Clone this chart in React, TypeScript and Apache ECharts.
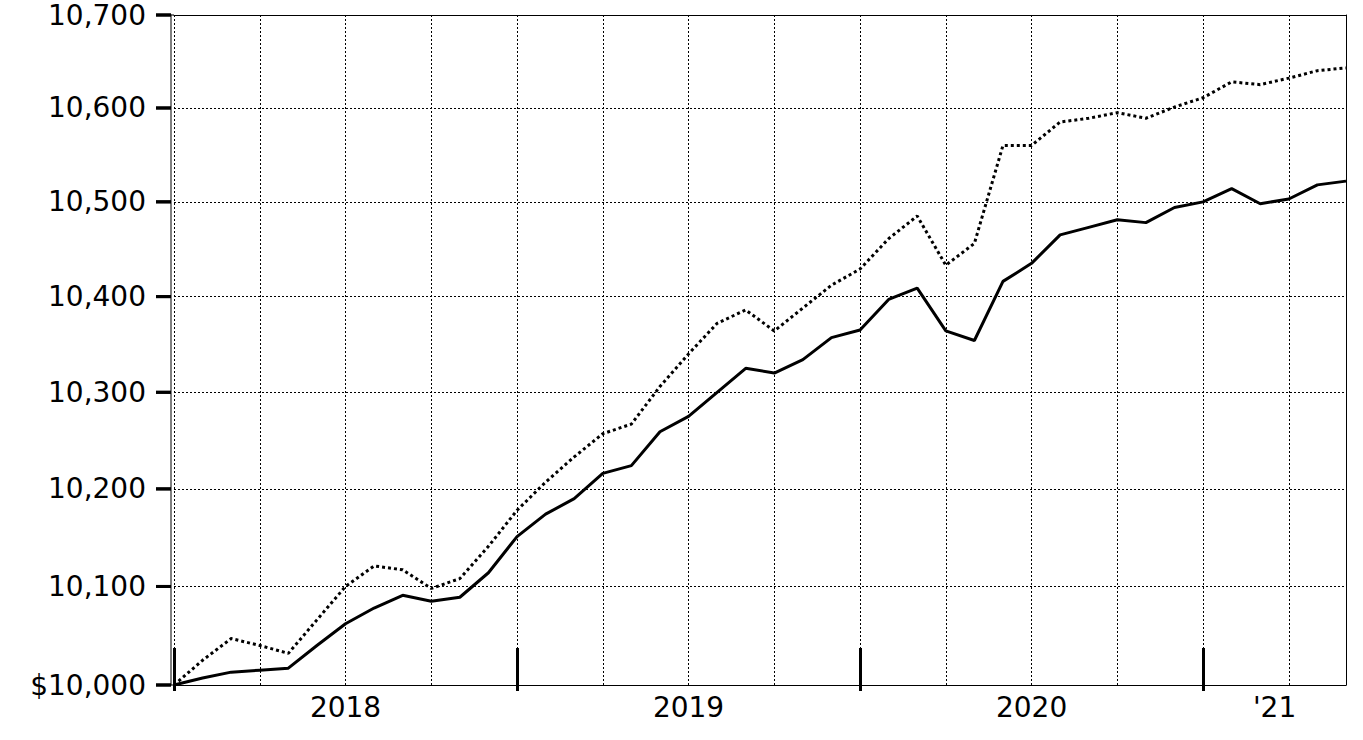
import React, { useEffect, useRef } from 'react';
import * as echarts from 'echarts';

// Y tick values (dollars) – axis is logarithmic
const yTickValues = [10000, 10100, 10200, 10300, 10400, 10500, 10600, 10700];

// Year labels and their positions (month index, centered in each year span)
const yearLabels = ['2018', '2019', '2020', "'21"];
const yearLabelPositions = [6, 18, 30, 38.5];
const yearTickPositions = [0, 12, 24, 36];

// Monthly values, month 0 .. 41
const solidValues = [
  10000, 10007, 10013, 10015, 10017, 10040, 10062, 10078, 10091, 10085,
  10089, 10114, 10151, 10174, 10190, 10216, 10224, 10259, 10275, 10300,
  10325, 10320, 10334, 10357, 10365, 10397, 10409, 10364, 10354, 10416,
  10435, 10465, 10473, 10481, 10478, 10494, 10500, 10514, 10498, 10503,
  10518, 10522,
];

const dottedValues = [
  10000, 10025, 10047, 10040, 10032, 10066, 10100, 10121, 10117, 10098,
  10108, 10141, 10178, 10207, 10233, 10257, 10267, 10306, 10340, 10372,
  10386, 10364, 10388, 10412, 10429, 10461, 10485, 10433, 10456, 10560,
  10560, 10585, 10589, 10595, 10589, 10601, 10611, 10628, 10625, 10632,
  10640, 10643,
];

const FONT = 'DejaVu Sans, Verdana, sans-serif';

function withCommas(n: number): string {
  return String(n).replace(/\B(?=(\d{3})+(?!\d))/g, ',');
}

export default function App() {
  const ref = useRef<HTMLDivElement>(null);

  useEffect(() => {
    if (!ref.current) return;
    const chart = echarts.init(ref.current, null, { renderer: 'svg' });
    const lg = (v: number) => Math.log10(v);
    const yTickLogs = yTickValues.map(lg);
    const yMin = yTickLogs[0];
    const yMax = yTickLogs[yTickLogs.length - 1];
    const monthCount = solidValues.length - 1;

    const yFmt = (v: number) => {
      const n = Math.round(Math.pow(10, v));
      const s = withCommas(n);
      const txt = n === yTickValues[0] ? '$' + s : s;
      return '{v|' + txt + '}{s| }{t| }';
    };
    const xFmt = (v: number) => {
      const i = yearLabelPositions.findIndex((p) => Math.abs(p - v) < 1e-6);
      return i >= 0 ? yearLabels[i] : '';
    };

    const dotted = { color: '#000', width: 1, type: [2, 2] as any };
    const hidden = {
      axisLine: { show: false },
      axisTick: { show: false },
      axisLabel: { show: false },
      splitLine: { show: false },
    };

    chart.setOption({
      animation: false,
      backgroundColor: '#fff',
      grid: { left: 174, right: 17, top: 15, bottom: 55, containLabel: false },
      xAxis: [
        {
          type: 'value', min: 0, max: monthCount, interval: 3, position: 'bottom',
          axisLine: { show: true, onZero: false, lineStyle: { color: '#000', width: 1 } },
          axisTick: { show: false },
          axisLabel: {
            show: true, customValues: yearLabelPositions, formatter: xFmt,
            fontSize: 28, fontFamily: FONT, color: '#000', margin: 8,
          },
          splitLine: { show: true, lineStyle: dotted },
        },
        {
          type: 'value', min: 0, max: monthCount, position: 'bottom', offset: 6,
          ...hidden,
          axisTick: {
            show: true, inside: true, length: 43, customValues: yearTickPositions,
            lineStyle: { color: '#000', width: 3 },
          },
        },
        {
          type: 'value', min: 0, max: monthCount, position: 'top',
          ...hidden,
          axisLine: { show: true, onZero: false, lineStyle: { color: '#000', width: 1 } },
        },
      ],
      yAxis: [
        {
          type: 'value', min: yMin, max: yMax,
          axisLine: { show: false },
          axisTick: { show: false, customValues: yTickLogs },
          axisLabel: {
            show: true, customValues: yTickLogs, formatter: yFmt,
            color: '#000', margin: 3,
            rich: {
              v: { fontSize: 28, fontFamily: FONT, color: '#000' },
              s: { width: 10, fontSize: 28, fontFamily: FONT },
              t: { width: 15, height: 3, backgroundColor: '#000', fontSize: 2, lineHeight: 3 },
            },
          },
          splitLine: { show: true, lineStyle: dotted },
        },
        {
          type: 'value', min: yMin, max: yMax, position: 'right',
          ...hidden,
          axisLine: { show: true, onZero: false, lineStyle: { color: '#000', width: 1 } },
        },
      ],
      series: [
        {
          name: 'Benchmark', type: 'line',
          data: dottedValues.map((v, i) => [i, lg(v)]),
          symbol: 'none', showSymbol: false, silent: true,
          lineStyle: { color: '#000', width: 3, type: [3, 3] as any },
        },
        {
          name: 'Fund', type: 'line',
          data: solidValues.map((v, i) => [i, lg(v)]),
          symbol: 'none', showSymbol: false, silent: true,
          lineStyle: { color: '#000', width: 3 },
        },
      ],
    });

    // Left frame line (3px left of the first gridline) and outward y ticks,
    // positioned through the library's own scales.
    const gx = Number(chart.convertToPixel({ xAxisIndex: 0 }, 0));
    const yTopPx = Number(chart.convertToPixel({ yAxisIndex: 0 }, yMax));
    const yBotPx = Number(chart.convertToPixel({ yAxisIndex: 0 }, yMin));
    const axisX = gx - 3;
    const elements: any[] = [
      {
        type: 'rect',
        shape: { x: axisX - 0.5, y: yTopPx - 0.5, width: 1, height: yBotPx - yTopPx + 1 },
        style: { fill: '#000' },
        z: 100,
      },
      {
        type: 'rect',
        shape: { x: axisX, y: yTopPx - 0.5, width: gx - axisX, height: 1 },
        style: { fill: '#000' },
        z: 100,
      },
      {
        type: 'rect',
        shape: { x: axisX, y: yBotPx - 0.5, width: gx - axisX, height: 1 },
        style: { fill: '#000' },
        z: 100,
      },
    ];
    yTickLogs.forEach((t) => {
      const py = Number(chart.convertToPixel({ yAxisIndex: 0 }, t));
      elements.push({
        type: 'rect',
        shape: { x: axisX - 15, y: py - 1.5, width: 15, height: 3 },
        style: { fill: '#000' },
        z: 100,
      });
    });
    chart.setOption({ graphic: { elements } });

    return () => {
      chart.dispose();
    };
  }, []);

  return (
    <div
      ref={ref}
      style={{ position: 'fixed', left: 0, top: 0, width: 1363, height: 740, background: '#fff' }}
    />
  );
}
